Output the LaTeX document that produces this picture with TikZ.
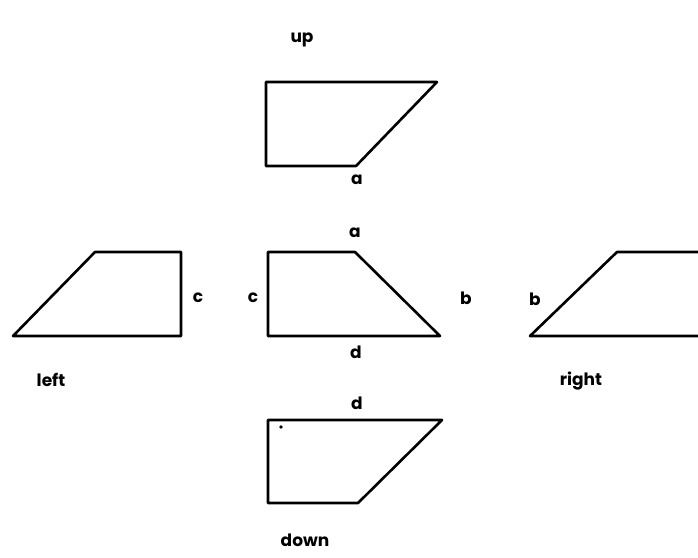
\documentclass[tikz,border=0pt]{standalone}
\usepackage{fontspec}
\setmainfont{Poppins}
\usetikzlibrary{positioning}

\begin{document}
\begin{tikzpicture}[
    x=1pt, y=-1pt,
    font=\fontsize{17}{19}\selectfont\bfseries,
    side/.style={draw=black, line width=2.6pt, line join=round, line cap=round},
    lbl/.style={inner sep=0pt, anchor=center}
]
    \useasboundingbox (0,0) rectangle (698,557);

    % --- Middle shape ---
    \draw[side] (268,252) -- (355,252) -- (440,336) -- (268,336) -- cycle;
    \node[lbl] (midA) at (355,233) {a};
    \node[lbl] (midB) at (466,298) {b};
    \node[lbl] (midC) at (253,298) {c};
    \node[lbl] (midD) at (356,352) {d};

    % --- Up ---
    \draw[side] (266,82) -- (437,82) -- (356,166) -- (266,166) -- cycle;
    \node[lbl] (upA) at (357,180) {a};
    \node[lbl] (upName) at (302,40) {up};

    % --- Left ---
    \draw[side] (13,336) -- (95,252) -- (181,252) -- (181,336) -- cycle;
    \node[lbl] (leftC) at (198,298) {c};
    \node[lbl] (leftName) at (51,380) {left};

    % --- Right ---
    \draw[side] (698,252) -- (617,252) -- (530,336) -- (698,336);
    \node[lbl] (rightB) at (535,299) {b};
    \node[lbl] (rightName) at (581,381) {right};

    % --- Down ---
    \draw[side] (268,420) -- (442,420) -- (358,503) -- (268,503) -- cycle;
    \fill (281,427) circle (1.8pt);
    \node[lbl] (downD) at (357,403) {d};
    \node[lbl] (downName) at (305,540) {down};
\end{tikzpicture}
\end{document}
